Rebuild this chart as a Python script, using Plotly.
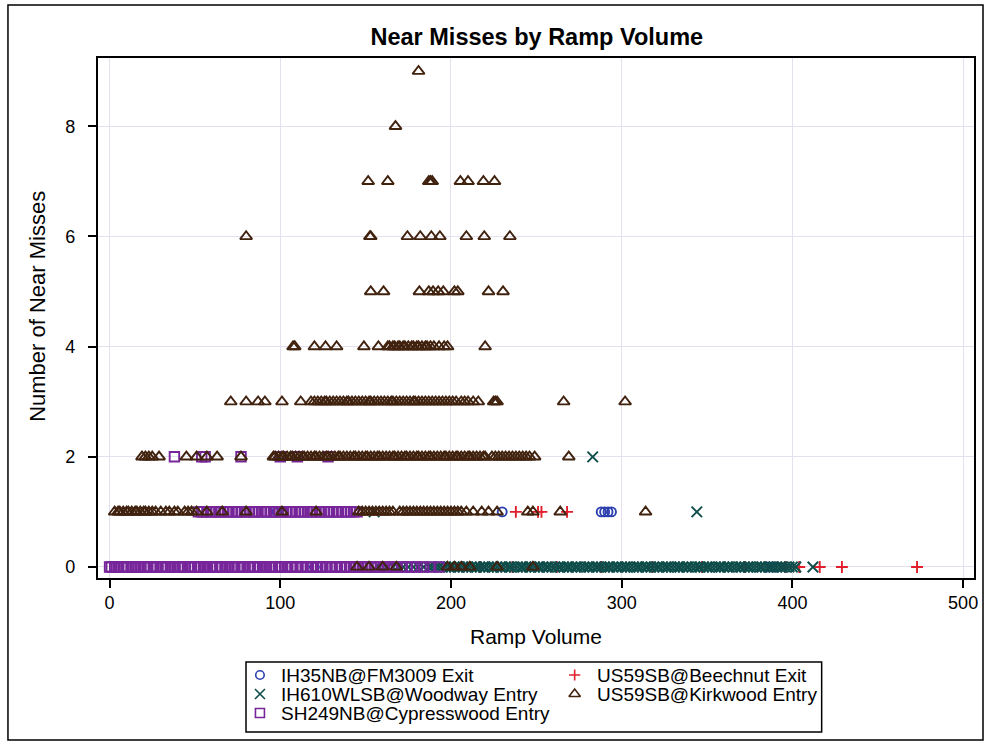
import plotly.graph_objects as go

# Ramp volumes (x) observed at each near-miss count (dict key = count)
ih35_fm3009 = {
    0: [120, 160, 385, 388, 391],
    1: [98, 230, 288, 290, 292, 294],
}
ih610_woodway = {
    0: [158, 162, 166, 169, 172, 175, 178, 181, 184, 187, 189, 191, 193, 195,
        197, 199, 200, 202, 204, 205, 207, 209, 210, 212, 214, 215, 217, 219,
        220, 222, 224, 225, 227, 229, 230, 232, 234, 235, 237, 239, 241, 242,
        244, 246, 247, 249, 251, 252, 254, 256, 257, 259, 261, 263, 264, 266,
        268, 269, 271, 273, 274, 276, 278, 280, 281, 283, 285, 286, 288, 290,
        292, 293, 295, 297, 298, 300, 302, 303, 305, 307, 309, 310, 312, 314,
        315, 317, 319, 321, 322, 324, 326, 327, 329, 331, 333, 334, 336, 338,
        339, 341, 343, 345, 346, 348, 350, 351, 353, 355, 357, 358, 360, 362,
        363, 365, 367, 369, 370, 372, 374, 375, 377, 379, 381, 382, 384, 386,
        387, 389, 391, 393, 394, 396, 398, 400, 402, 412],
    1: [100, 155, 344],
    2: [283],
}
sh249_cypresswood = {
    0: [0, 1, 3, 4, 5, 7, 8, 10, 11, 13, 14, 15, 17, 18, 20, 21, 22, 24, 26,
        27, 28, 30, 31, 33, 34, 36, 37, 38, 40, 41, 43, 44, 46, 47, 48, 50, 52,
        53, 55, 56, 57, 59, 60, 62, 63, 65, 66, 68, 69, 70, 72, 73, 75, 77, 78,
        79, 81, 82, 84, 85, 87, 88, 90, 91, 92, 94, 95, 97, 99, 100, 101, 103,
        104, 106, 107, 109, 110, 112, 113, 115, 116, 118, 119, 121, 122, 124,
        125, 127, 129, 130, 132, 133, 135, 136, 138, 139, 141, 143, 144, 146,
        148, 150, 151, 153, 155, 157, 159, 161, 163, 166, 168, 171, 174, 177,
        180, 184, 188, 193],
    1: [52, 54, 55, 57, 59, 60, 62, 64, 65, 67, 69, 70, 72, 74, 75, 77, 79, 80,
        82, 84, 85, 87, 89, 91, 92, 94, 96, 97, 99, 101, 102, 104, 106, 107,
        109, 111, 112, 114, 116, 118, 119, 121, 123, 124, 126, 128, 129, 131,
        133, 134, 136, 138, 139, 141, 143, 145],
    2: [38, 54, 56, 77, 100, 110, 128],
}
us59_beechnut = {
    0: [217, 236, 262, 288, 318, 347, 372, 396, 404, 416, 429, 473],
    1: [238, 251, 253, 268],
}
us59_kirkwood = {
    0: [145, 152, 160, 168, 198, 202, 206, 211, 227, 248],
    1: [3, 5, 6, 8, 10, 11, 13, 15, 16, 18, 20, 21, 23, 25, 27, 30, 33, 35, 38,
        40, 44, 46, 48, 51, 57, 66, 80, 101, 121, 146, 148, 150, 152, 154, 156,
        158, 160, 162, 164, 166, 170, 172, 174, 176, 178, 180, 182, 184, 186,
        188, 190, 192, 194, 196, 198, 200, 202, 204, 206, 209, 213, 218, 222,
        227, 245, 248, 264, 314],
    2: [19, 21, 23, 25, 29, 45, 51, 57, 63, 77, 96, 97, 99, 101, 102, 104, 106,
        107, 109, 111, 113, 114, 116, 118, 120, 121, 123, 125, 127, 128, 130,
        132, 134, 135, 137, 139, 141, 143, 144, 146, 148, 150, 151, 153, 155,
        157, 158, 160, 162, 164, 166, 167, 169, 171, 173, 174, 176, 178, 180,
        181, 183, 185, 187, 188, 190, 192, 194, 196, 197, 199, 201, 203, 204,
        206, 208, 210, 211, 213, 215, 217, 219, 220, 224, 226, 228, 230, 232,
        234, 236, 238, 240, 242, 244, 246, 249, 269],
    3: [71, 80, 87, 91, 101, 112, 118, 120, 122, 124, 126, 127, 129, 131, 133,
        135, 137, 139, 140, 142, 144, 146, 148, 150, 152, 153, 155, 157, 159,
        161, 163, 165, 166, 168, 170, 172, 174, 176, 178, 179, 181, 183, 185,
        187, 189, 191, 193, 195, 197, 199, 201, 203, 206, 208, 210, 213, 216,
        225, 226, 227, 266, 302],
    4: [107.5, 108.5, 120, 126.5, 133, 149, 157.5, 163, 164, 166, 167, 169,
        170, 172, 173, 175, 177, 178, 180, 181, 183, 185, 186, 188, 190, 193,
        196, 198, 220],
    5: [153, 160.5, 181.5, 187, 189.5, 192.5, 195.5, 202, 204, 222, 230.5],
    6: [80, 152.5, 153, 174.5, 182, 188.5, 193.5, 209, 219.5, 234.5],
    7: [151.5, 163, 187, 188, 189, 205.5, 210, 219, 225.5],
    8: [167.5],
    9: [181],
}

x_ticks = [0, 100, 200, 300, 400, 500]
y_ticks = [0, 2, 4, 6, 8]

FONT = "Arial, Liberation Sans, sans-serif"
W, H = 989, 745


def px(x):
    """Horizontal pixel -> figure fraction."""
    return x / W


def py(y):
    """Vertical pixel (from top) -> figure fraction."""
    return 1 - y / H


def points(levels):
    xs, ys = [], []
    for count, vols in levels.items():
        xs.extend(vols)
        ys.extend([count] * len(vols))
    return xs, ys


# (name, data, symbol, size, colour, legend column, legend row)
series = [
    ("IH35NB@FM3009 Exit", ih35_fm3009, "circle-open", 9, "#2b3fae", 0, 0),
    ("US59SB@Beechnut Exit", us59_beechnut, "cross-thin-open", 8.5, "#e0202c", 1, 0),
    ("IH610WLSB@Woodway Entry", ih610_woodway, "x-thin-open", 10.5, "#0f4d4b", 0, 1),
    ("SH249NB@Cypresswood Entry", sh249_cypresswood, "square-open", 9.5, "#77259a", 0, 2),
    ("US59SB@Kirkwood Entry", us59_kirkwood, "triangle-up-open", 10.5, "#40220e", 1, 1),
]

# legend block geometry (pixels)
LEG_X0, LEG_X1, LEG_Y0, LEG_Y1 = 247, 825, 662, 732
col_symbol_x = [261, 577]
col_text_x = [280, 597]
row_y = [675, 694, 713]

fig = go.Figure()
annotations = []
for name, data, symbol, size, color, col, row in series:
    xs, ys = points(data)
    marker = dict(symbol=symbol, size=size, color=color,
                  line=dict(color=color, width=1.9))
    fig.add_trace(go.Scatter(x=xs, y=ys, mode="markers", name=name,
                             marker=marker, showlegend=False))
    # legend key
    fig.add_trace(go.Scatter(x=[col_symbol_x[col]], y=[row_y[row]],
                             xaxis="x2", yaxis="y2", mode="markers",
                             marker=dict(marker, size=size - 0.5,
                                         line=dict(color=color, width=1.6)),
                             showlegend=False, hoverinfo="skip"))
    annotations.append(dict(text=name, xref="x2", yref="y2",
                            x=col_text_x[col], y=row_y[row],
                            xanchor="left", yanchor="middle",
                            showarrow=False,
                            font=dict(family=FONT, size=19, color="black")))

axis_common = dict(
    showline=True, mirror=True, linecolor="black", linewidth=1.5,
    ticks="outside", ticklen=8, tickwidth=1.5, tickcolor="black",
    showgrid=True, gridcolor="#e4e0ee", gridwidth=1, zeroline=False,
    tickfont=dict(family=FONT, size=18, color="black"),
)

annotations += [
    dict(text="Ramp Volume", xref="paper", yref="paper", x=px(538),
         y=py(636), showarrow=False, xanchor="center", yanchor="middle",
         font=dict(family=FONT, size=21, color="black")),
    dict(text="Number of Near Misses", xref="paper", yref="paper",
         x=px(38), y=py(306), textangle=-90, showarrow=False,
         xanchor="center", yanchor="middle",
         font=dict(family=FONT, size=22, color="black")),
]

fig.update_layout(
    width=W, height=H,
    margin=dict(l=0, r=0, t=0, b=0),
    paper_bgcolor="white", plot_bgcolor="rgba(0,0,0,0)",
    title=dict(text="<b>Near Misses by Ramp Volume</b>", x=px(539),
               xref="paper", xanchor="center",
               y=py(37), yref="container", yanchor="middle",
               font=dict(family=FONT, size=23.5, color="black")),
    xaxis=dict(domain=[px(98), px(978)], range=[-7, 506.4],
               tickvals=x_ticks, **axis_common),
    yaxis=dict(domain=[py(578), py(58)], range=[-0.2, 9.24],
               tickvals=y_ticks, ticklabelstandoff=9, **axis_common),
    xaxis2=dict(domain=[px(LEG_X0), px(LEG_X1)], range=[LEG_X0, LEG_X1],
                visible=False, fixedrange=True),
    yaxis2=dict(domain=[py(LEG_Y1), py(LEG_Y0)], range=[LEG_Y1, LEG_Y0],
                visible=False, fixedrange=True),
    annotations=annotations,
    shapes=[
        # legend frame
        dict(type="rect", xref="paper", yref="paper",
             x0=px(LEG_X0), x1=px(LEG_X1), y0=py(LEG_Y0), y1=py(LEG_Y1),
             line=dict(color="black", width=1.5)),
        # outer graph border
        dict(type="rect", xref="paper", yref="paper",
             x0=px(8), x1=px(987), y0=py(5), y1=py(740),
             line=dict(color="black", width=1.5)),
    ],
)

fig.write_html("out.html")
